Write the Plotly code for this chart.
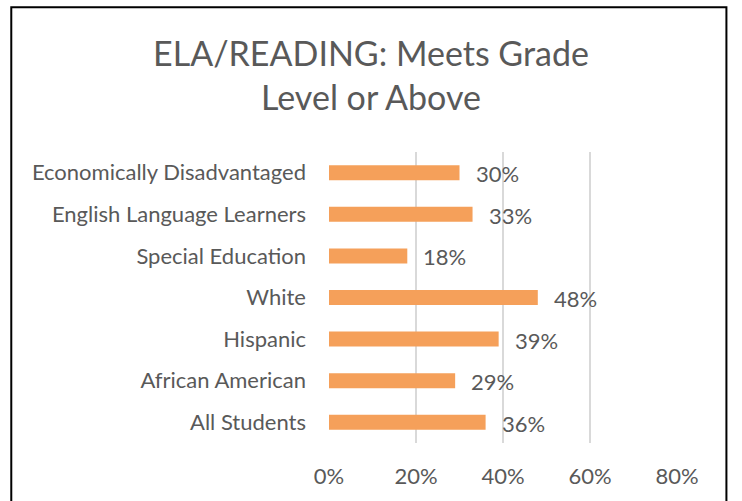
import plotly.graph_objects as go

# Student groups (bottom to top) and share meeting grade level
groups = [
    "All Students",
    "African American",
    "Hispanic",
    "White",
    "Special Education",
    "English Language Learners",
    "Economically Disadvantaged",
]
meets_pct = [0.36, 0.29, 0.39, 0.48, 0.18, 0.33, 0.30]
x_ticks = [0, 0.2, 0.4, 0.6, 0.8]
x_tick_labels = ["0%", "20%", "40%", "60%", "80%"]

FONT = "Lato, Calibri, Carlito, sans-serif"
GREY = "#595959"
BAR = "#F5A05A"

fig = go.Figure(
    go.Bar(
        x=meets_pct,
        y=groups,
        orientation="h",
        marker=dict(color=BAR, line=dict(width=0)),
        width=0.36,
        hoverinfo="skip",
    )
)

# value labels to the right of each bar
for g, v in zip(groups, meets_pct):
    fig.add_annotation(
        x=v, y=g, xref="x", yref="y",
        text=f"{round(v * 100)}%",
        showarrow=False, xanchor="left", xshift=14, yshift=-1,
        font=dict(family=FONT, size=22, color=GREY),
    )

# chart frame
fig.add_shape(
    type="rect", xref="paper", yref="paper",
    x0=-0.913, x1=1.142, y0=-0.5, y1=1.497,
    line=dict(color="black", width=2), fillcolor="rgba(0,0,0,0)",
    layer="above",
)

fig.update_layout(
    width=742, height=501,
    paper_bgcolor="white", plot_bgcolor="white",
    margin=dict(l=329, r=65, t=152, b=58),
    showlegend=False,
    title=dict(
        text="ELA/READING: Meets Grade<br>Level or Above",
        x=0.5, xref="container", xanchor="center",
        y=1 - 66 / 501, yref="container", yanchor="top",
        font=dict(family=FONT, size=34, color=GREY),
    ),
    xaxis=dict(
        range=[0, 0.8], tickvals=x_ticks, ticktext=x_tick_labels,
        showgrid=True, gridcolor="#D9D9D9", gridwidth=1.5,
        zeroline=True, zerolinecolor="white", zerolinewidth=2,
        showline=False, ticks="", ticklabelstandoff=18,
        tickfont=dict(family=FONT, size=22, color=GREY),
        fixedrange=True,
    ),
    yaxis=dict(
        showgrid=False, showline=False, ticks="", ticklabelstandoff=22,
        tickfont=dict(family=FONT, size=22, color=GREY),
        fixedrange=True,
    ),
)

fig.write_html("out.html")
